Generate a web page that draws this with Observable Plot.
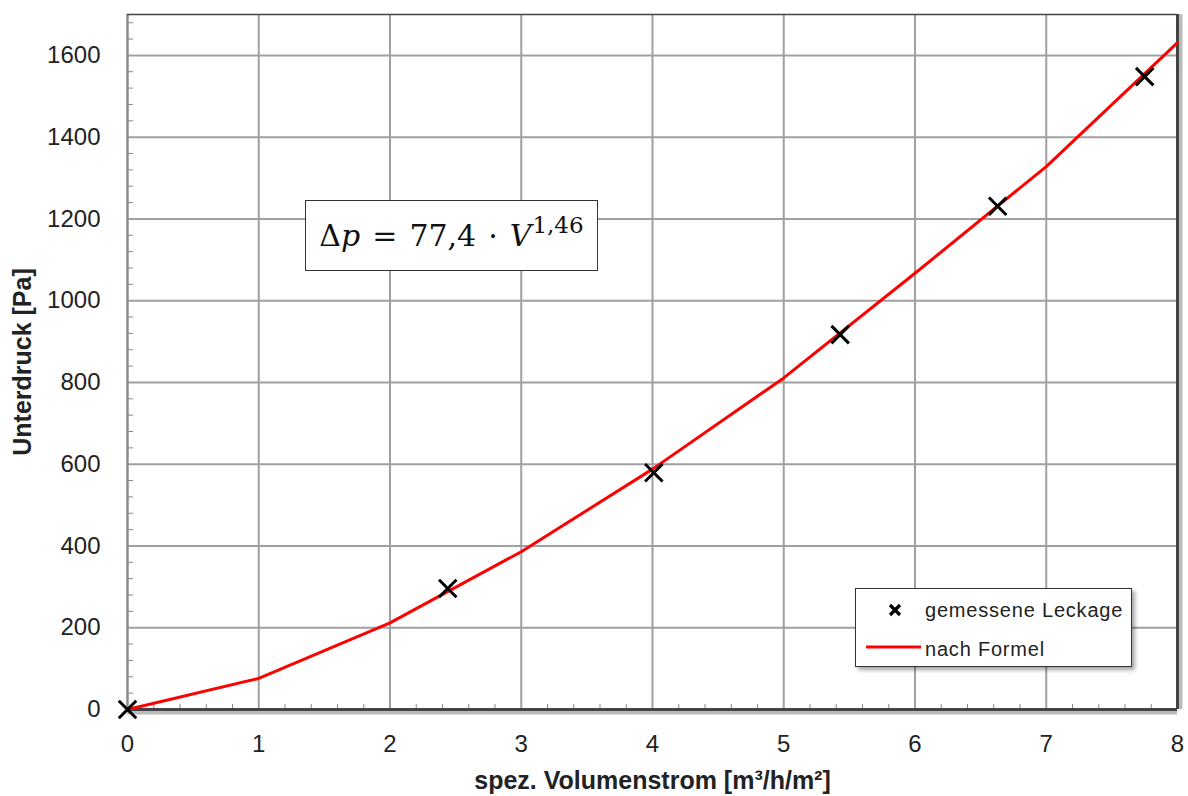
<!DOCTYPE html>
<html>
<head>
<meta charset="utf-8">
<script src="https://cdn.jsdelivr.net/npm/d3@7"></script>
<script src="https://cdn.jsdelivr.net/npm/@observablehq/plot@0.6"></script>
<style>
  html, body { margin: 0; padding: 0; background: #fff; }
  #wrap { position: relative; width: 1188px; height: 796px; overflow: hidden; }
  #legend { position: absolute; left: 855px; top: 588px; width: 275px; height: 77px;
    border: 1.5px solid #333; background: #fff; box-shadow: 3px 3px 4px rgba(0,0,0,0.35); }
  #formula { position: absolute; left: 305px; top: 200px; width: 291px; height: 69px;
    border: 1px solid #333; background: #fff; font-family: "DejaVu Serif", "Liberation Serif", serif;
    font-size: 30px; color: #111; display: flex; align-items: center; justify-content: center; white-space: nowrap; }
  #formula sup { font-size: 23px; position: relative; top: -13px; vertical-align: baseline; margin-left: 1px; }
  #formula .sp { display: inline-block; width: 12px; }
</style>
</head>
<body>
<div id="wrap">
  <div id="chart"></div>
  <div id="formula"><span>Δ<i>p</i><span class="sp"></span>=<span class="sp"></span>77,4<span class="sp"></span>·<span class="sp"></span><i>V</i><sup>1,46</sup></span></div>
  <div id="legend"></div>
</div>
<script>
// tick values
const xTicks = [0, 1, 2, 3, 4, 5, 6, 7, 8];
const yTicks = [0, 200, 400, 600, 800, 1000, 1200, 1400, 1600];
const xMinor = [0.2,0.4,0.6,0.8,1.2,1.4,1.6,1.8,2.2,2.4,2.6,2.8,3.2,3.4,3.6,3.8,4.2,4.4,4.6,4.8,5.2,5.4,5.6,5.8,6.2,6.4,6.6,6.8,7.2,7.4,7.6,7.8];
const yMinor = [40,80,120,160,240,280,320,360,440,480,520,560,640,680,720,760,840,880,920,960,1040,1080,1120,1160,1240,1280,1320,1360,1440,1480,1520,1560,1640,1680];

// series: "nach Formel" (red line)
const formulaX = [0, 1, 2, 3, 4, 5, 6, 7, 8];
const formulaY = [0, 76, 212, 386, 588, 811, 1067, 1328, 1631];

// series: "gemessene Leckage" (crosses)
const measX = [0, 2.44, 4.01, 5.43, 6.63, 7.75];
const measY = [0, 296, 579, 917, 1231, 1548];

const lineData = formulaX.map((x, i) => ({x, y: formulaY[i]}));
const measData = measX.map((x, i) => ({x, y: measY[i]}));

const chart = Plot.plot({
  width: 1188,
  height: 796,
  marginLeft: 127,
  marginRight: 11,
  marginTop: 14,
  marginBottom: 87,
  x: {domain: [0, 8]},
  y: {domain: [0, 1700]},
  style: {fontFamily: "'Liberation Sans', Arial, sans-serif", fontSize: "24px", color: "#222", background: "#fff", overflow: "visible"},
  marks: [
    Plot.ruleX(xTicks, {stroke: "#a0a0a0", strokeWidth: 2}),
    Plot.ruleY(yTicks, {stroke: "#a0a0a0", strokeWidth: 2}),
    Plot.axisX(xMinor, {tickSize: -5, tickFormat: () => "", stroke: "#888", label: null}),
    Plot.axisY(yMinor, {tickSize: -6, tickFormat: () => "", stroke: "#888", label: null}),
    Plot.ruleX([0], {stroke: "#888", strokeWidth: 2}),
    Plot.ruleY([1700], {stroke: "#444", strokeWidth: 1.5}),
    Plot.ruleX([8], {dx: 3, stroke: "#bbb", strokeWidth: 4}),
    Plot.ruleY([0], {dy: 3, stroke: "#bbb", strokeWidth: 4}),
    Plot.ruleX([8], {stroke: "#444", strokeWidth: 3}),
    Plot.ruleY([0], {stroke: "#444", strokeWidth: 3}),
    Plot.line(lineData, {x: "x", y: "y", stroke: "#ff0000", strokeWidth: 3}),
    Plot.dot(measData, {x: "x", y: "y", symbol: "times", r: 8, stroke: "#000", strokeWidth: 3}),
    Plot.axisX(xTicks, {tickSize: 0, tickPadding: 25, label: null, fontSize: 24, tickFormat: d => String(d)}),
    Plot.axisY(yTicks, {tickSize: 0, tickPadding: 27, label: null, fontSize: 24, tickFormat: d => String(d)}),
    Plot.text(["spez. Volumenstrom [m³/h/m²]"], {frameAnchor: "bottom", textAnchor: "middle", lineAnchor: "middle", dy: 71, fontWeight: "bold", fontSize: 25, letterSpacing: 1.3, fill: "#222"}),
    Plot.text(["Unterdruck [Pa]"], {frameAnchor: "left", textAnchor: "middle", lineAnchor: "middle", dx: -105, rotate: -90, fontWeight: "bold", fontSize: 25, letterSpacing: 1, fill: "#222"})
  ]
});
document.getElementById("chart").appendChild(chart);

// legend
const legend = d3.select("#legend").append("svg").attr("width", 275).attr("height", 77)
  .style("font-family", "'Liberation Sans', Arial, sans-serif").style("font-size", "20px");
legend.append("path").attr("d", "M34,16L44,26M44,16L34,26").attr("stroke", "#000").attr("stroke-width", 3.2);
legend.append("text").attr("x", 69).attr("y", 28).attr("fill", "#222").attr("letter-spacing", "0.8").text("gemessene Leckage");
legend.append("line").attr("x1", 10).attr("x2", 65).attr("y1", 58).attr("y2", 58).attr("stroke", "#ff0000").attr("stroke-width", 3);
legend.append("text").attr("x", 69).attr("y", 67).attr("fill", "#222").attr("letter-spacing", "0.8").text("nach Formel");
</script>
</body>
</html>
